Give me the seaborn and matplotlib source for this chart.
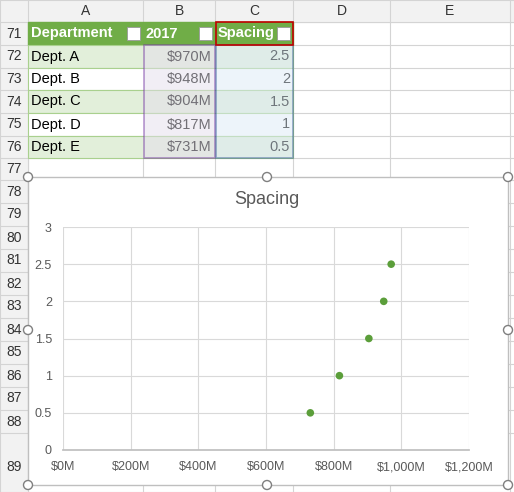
import matplotlib
matplotlib.use("Agg")
import matplotlib.pyplot as plt
import seaborn as sns
import pandas as pd
from matplotlib.patches import Rectangle

departments = ["Dept. A", "Dept. B", "Dept. C", "Dept. D", "Dept. E"]
values_2017 = [970, 948, 904, 817, 731]
spacing = [2.5, 2, 1.5, 1, 0.5]
value_labels = ["$970M", "$948M", "$904M", "$817M", "$731M"]
x_ticks = [0, 200, 400, 600, 800, 1000, 1200]
x_tick_labels = ["$0M", "$200M", "$400M", "$600M", "$800M", "$1,000M", "$1,200M"]
y_ticks = [0, 0.5, 1, 1.5, 2, 2.5, 3]
y_tick_labels = ["0", "0.5", "1", "1.5", "2", "2.5", "3"]

sns.set_theme(style="white")
plt.rcParams['font.family'] = ['Liberation Sans', 'DejaVu Sans']

W, H = 514, 492
fig = plt.figure(figsize=(W/100, H/100), dpi=100)
bg = fig.add_axes([0, 0, 1, 1])
bg.set_xlim(0, W); bg.set_ylim(H, 0); bg.axis("off")

cols = [0, 28, 143, 215, 293, 390, 510]
row_edges = [0, 22, 45, 68, 90, 113, 136, 158, 180, 203, 226, 249, 272, 295, 318, 341, 364, 387, 410, 433, 492]
bg.add_patch(Rectangle((0, 0), W, 22, color="#F2F2F2", zorder=0))
bg.add_patch(Rectangle((0, 0), 28, H, color="#F2F2F2", zorder=0))
for x in cols:
    bg.plot([x, x], [0, H], color="#D4D4D4", lw=0.8, zorder=1)
for y in row_edges:
    bg.plot([0, W], [y, y], color="#D4D4D4", lw=0.8, zorder=1)
for i, lab in enumerate("ABCDE"):
    bg.text((cols[i+1]+cols[i+2])/2, 11, lab, ha="center", va="center", fontsize=10, color="#333")
for i, r in enumerate(range(71, 89)):
    y0, y1 = row_edges[i+1], row_edges[i+2]
    bg.text(14, (y0+y1)/2, str(r), ha="center", va="center", fontsize=10, color="#333", zorder=8)
bg.text(14, 467, "89", ha="center", va="center", fontsize=10, color="#333", zorder=8)

bg.add_patch(Rectangle((28, 22), 265, 23, color="#70AD47", zorder=2))
for t, (x0, x1) in zip(["Department", "2017", "Spacing"], [(28, 143), (143, 215), (215, 293)]):
    bg.text(x0+3, 33.5, t, ha="left", va="center", fontsize=10.5, color="white", weight="bold", zorder=3)
    bg.add_patch(Rectangle((x1-16, 27), 13, 13, facecolor="white", edgecolor="#999", lw=0.6, zorder=3))
for i in range(5):
    y0, y1 = row_edges[i+2], row_edges[i+3]
    fill = "#E2EFDA" if i % 2 == 0 else "white"
    bg.add_patch(Rectangle((28, y0), 265, y1-y0, facecolor=fill, edgecolor="#A9D08E", lw=0.8, zorder=2))
    bg.text(31, (y0+y1)/2, departments[i], ha="left", va="center", fontsize=10.5, color="black", zorder=3)
    bg.text(212, (y0+y1)/2, value_labels[i], ha="right", va="center", fontsize=10.5, color="black", zorder=3)
    bg.text(290, (y0+y1)/2, f"{spacing[i]:g}", ha="right", va="center", fontsize=10.5, color="black", zorder=3)
bg.add_patch(Rectangle((144, 45), 71, 113, facecolor="#E4DFEC", alpha=0.5, edgecolor="#7030A0", lw=1.2, zorder=3))
bg.add_patch(Rectangle((216, 45), 77, 113, facecolor="#DDEBF7", alpha=0.5, edgecolor="#2F5597", lw=1.2, zorder=3))
bg.add_patch(Rectangle((216, 22), 77, 23, fill=False, edgecolor="#C00000", lw=1.2, zorder=3))

bg.add_patch(Rectangle((28, 177), 480, 308, facecolor="white", edgecolor="#BFBFBF", lw=1, zorder=5))
for (hx, hy) in [(28, 177), (267, 177), (508, 177), (28, 330), (508, 330), (28, 485), (267, 485), (508, 485)]:
    bg.add_patch(plt.Circle((hx, hy), 4.5, facecolor="white", edgecolor="#7F7F7F", lw=1, zorder=7))
bg.text(267, 200, "Spacing", ha="center", va="center", fontsize=13, color="#595959", zorder=6)

ax = fig.add_axes([63/W, 1-450/H, 406/W, 223/H])
df = pd.DataFrame({"value": values_2017, "spacing": spacing})
sns.scatterplot(data=df, x="value", y="spacing", ax=ax, color="#5B9E3A", s=30, edgecolor="none", zorder=3)
ax.set_xlim(0, 1200); ax.set_ylim(0, 3)
ax.set_xticks(x_ticks); ax.set_xticklabels(x_tick_labels, fontsize=9, color="#595959")
ax.set_yticks(y_ticks); ax.set_yticklabels(y_tick_labels, fontsize=9, color="#595959")
ax.set_xlabel(""); ax.set_ylabel("")
ax.grid(True, color="#D9D9D9", lw=0.8)
for k, s in ax.spines.items():
    s.set_visible(k == "bottom")
ax.spines["bottom"].set_color("#BFBFBF")
ax.tick_params(length=0, pad=8)
ax.set_facecolor("none")

fig.savefig("out.png", dpi=100)
